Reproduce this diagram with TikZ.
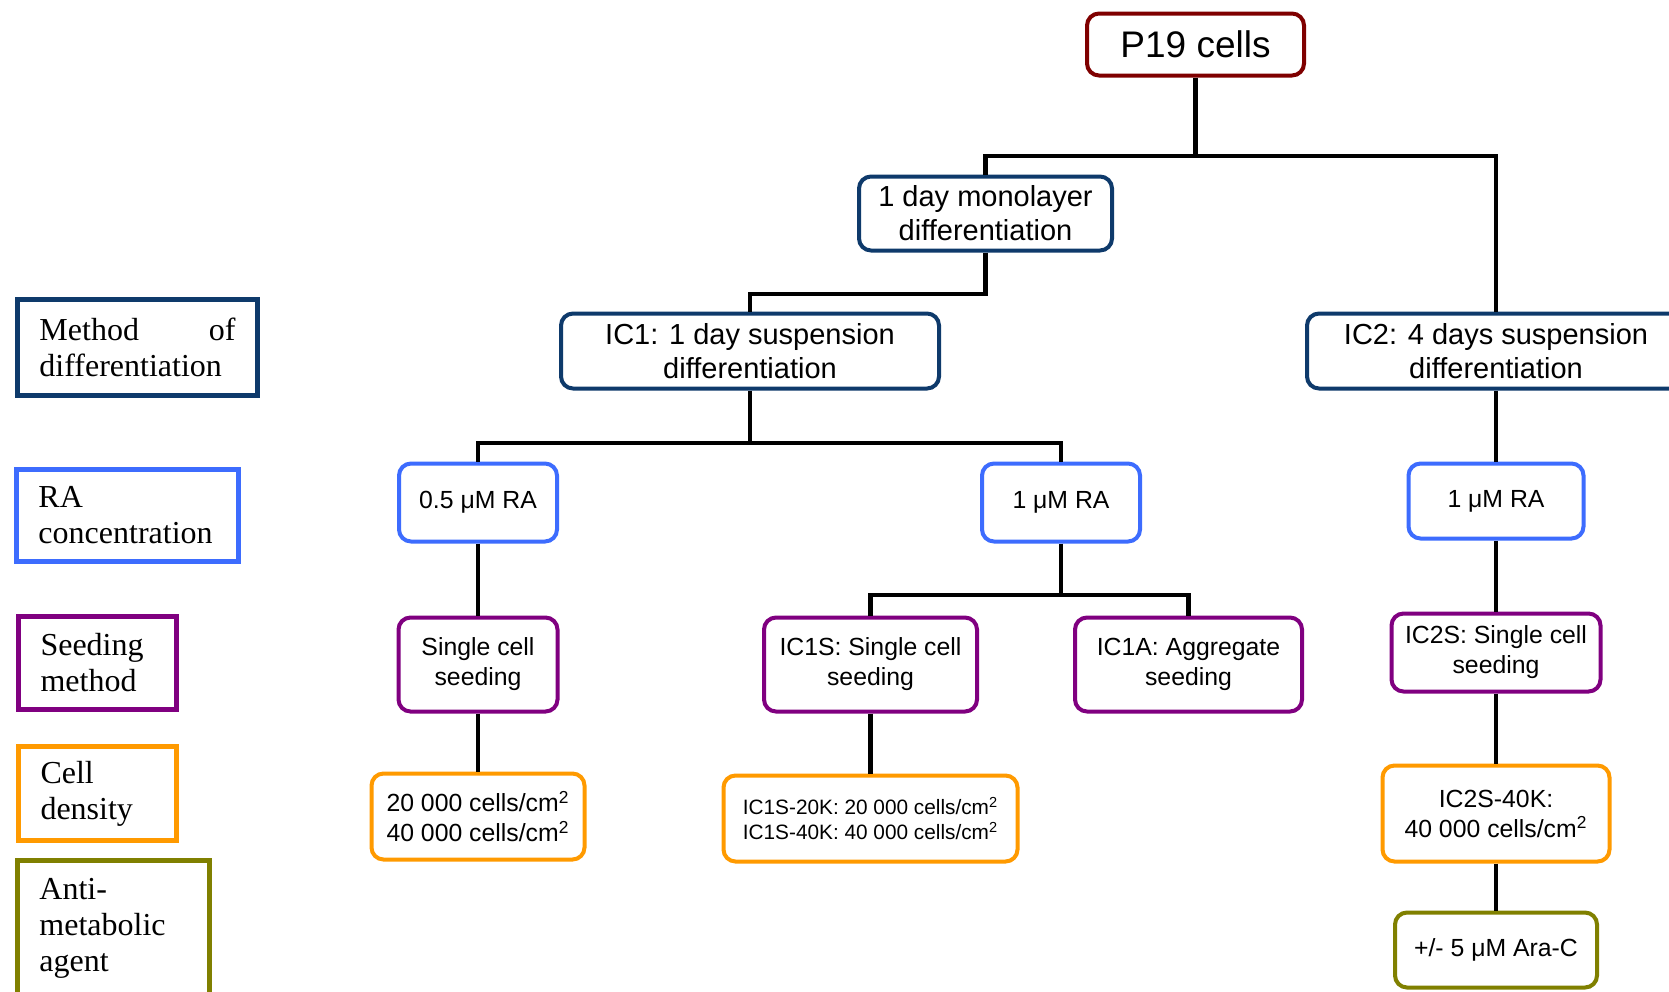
\documentclass[tikz,border=0pt]{standalone}
\usepackage{fontspec}
\setmainfont{Liberation Sans}
\newfontfamily\legendfont{Liberation Serif}
\usetikzlibrary{positioning}
\definecolor{p19red}{HTML}{7F0000}
\definecolor{diffblue}{HTML}{0E3A6B}
\definecolor{rablue}{HTML}{3D6CFE}
\definecolor{seedpurple}{HTML}{800080}
\definecolor{densorange}{HTML}{FF9A00}
\definecolor{araolive}{HTML}{808000}

\begin{document}
\begin{tikzpicture}[on grid, line join=miter,
    stage/.style={draw, rounded corners=6pt, line width=2pt, fill=white,
      align=center, inner sep=2pt, font=\fontsize{12.4}{15}\selectfont},
    key/.style={draw, line width=2.5pt, align=left, inner xsep=11pt,
      inner ysep=0pt, font=\legendfont\fontsize{16}{18}\selectfont},
    link/.style={line width=2.2pt}]
  \useasboundingbox (0,0) rectangle (834.5pt,-495.5pt);%
  \clip (0,0) rectangle (834.5pt,-495.5pt);%
  \fill[white] (0,0) rectangle (834.5pt,-495.5pt);%
  % legend
  \node[key, draw=diffblue, text width=98pt, minimum height=48pt] (kdiff) at (68.75pt,-173.75pt) {Method\hfill of\\differentiation};%
  \node[key, draw=rablue, text width=89pt, minimum height=46pt] (kra) at (63.75pt,-257.75pt) {RA\\concentration};%
  \node[key, draw=seedpurple, text width=57pt, minimum height=46.5pt] (kseed) at (48.75pt,-331.5pt) {Seeding\\method};%
  \node[key, draw=densorange, text width=57pt, minimum height=47pt] (kdens) at (48.75pt,-396.75pt) {Cell\\density};%
  \node[key, draw=araolive, text width=74pt, minimum height=67.5pt] (kara) at (56.75pt,-464pt) {Anti-\\metabolic\\agent};%
  % tree
  \node[stage, draw=p19red, minimum width=108.5pt, minimum height=31pt, font=\fontsize{18.5}{22}\selectfont] (p19) at (597.75pt,-22.25pt) {P19 cells};%
  \node[stage, draw=diffblue, minimum width=126.5pt, minimum height=37pt, font=\fontsize{14.5}{17}\selectfont] (mono) [below left=84.5pt and 105pt of p19] {1 day monolayer\\differentiation};%
  \node[stage, draw=diffblue, minimum width=189pt, minimum height=37.5pt, font=\fontsize{14.5}{17}\selectfont] (ic1) [below left=68.75pt and 117.75pt of mono] {IC1: 1 day suspension\\differentiation};%
  \node[stage, draw=diffblue, minimum width=189pt, minimum height=37.5pt, font=\fontsize{14.5}{17}\selectfont] (ic2) [right=373pt of ic1] {IC2: 4 days suspension\\differentiation};%
  \node[stage, draw=rablue, minimum width=79pt, minimum height=39pt] (ra05) [below left=75.75pt and 136pt of ic1] {0.5 μM RA};%
  \node[stage, draw=rablue, minimum width=79pt, minimum height=39pt] (ra1a) [below right=75.75pt and 155.5pt of ic1] {1 μM RA};%
  \node[stage, draw=rablue, minimum width=87.5pt, minimum height=37.5pt] (ra1b) [below=75pt of ic2] {1 μM RA};%
  \node[stage, draw=seedpurple, minimum width=79.5pt, minimum height=47pt] (single) [below=81pt of ra05] {Single cell\\seeding};%
  \node[stage, draw=seedpurple, minimum width=106.5pt, minimum height=47pt] (ic1s) [below left=81pt and 95.25pt of ra1a] {IC1S: Single cell\\seeding};%
  \node[stage, draw=seedpurple, minimum width=113.5pt, minimum height=47pt] (ic1a) [below right=81pt and 63.75pt of ra1a] {IC1A: Aggregate\\seeding};%
  \node[stage, draw=seedpurple, minimum width=104.5pt, minimum height=39pt] (ic2s) [below=75.75pt of ra1b] {IC2S: Single cell\\seeding};%
  \node[stage, draw=densorange, minimum width=106.5pt, minimum height=43pt] (dens1) [below=76pt of single] {20 000 cells/cm\textsuperscript{2}\\40 000 cells/cm\textsuperscript{2}};%
  \node[stage, draw=densorange, minimum width=147pt, minimum height=43pt, font=\fontsize{10.4}{12.25}\selectfont] (dens2) [below=77pt of ic1s] {IC1S-20K: 20 000 cells/cm\textsuperscript{2}\\IC1S-40K: 40 000 cells/cm\textsuperscript{2}};%
  \node[stage, draw=densorange, minimum width=113.5pt, minimum height=48pt] (dens3) [below=80.5pt of ic2s] {IC2S-40K:\\40 000 cells/cm\textsuperscript{2}};%
  \node[stage, draw=araolive, minimum width=101pt, minimum height=37.5pt] (arac) [below=68.25pt of dens3] {+/- 5 μM Ara-C};%
  % junctions
  \coordinate (j1) at ([yshift=-55.75pt]p19.center);%
  \coordinate (j2) at ([yshift=-40.25pt]mono.center);%
  \coordinate (j3) at ([yshift=-46pt]ic1.center);%
  \coordinate (j4) at ([yshift=-46.25pt]ra1a.center);%
  \draw[link] (p19) -- (j1) -| (mono);%
  \draw[link] (j1) -| (ic2);%
  \draw[link] (mono) -- (j2) -| (ic1);%
  \draw[link] (ic1) -- (j3) -| (ra05);%
  \draw[link] (j3) -| (ra1a);%
  \draw[link] (ra05) -- (single) -- (dens1);%
  \draw[link] (ra1a) -- (j4) -| (ic1s);%
  \draw[link] (j4) -| (ic1a);%
  \draw[link] (ic1s) -- (dens2);%
  \draw[link] (ic2) -- (ra1b) -- (ic2s) -- (dens3) -- (arac);%
\end{tikzpicture}
\end{document}
